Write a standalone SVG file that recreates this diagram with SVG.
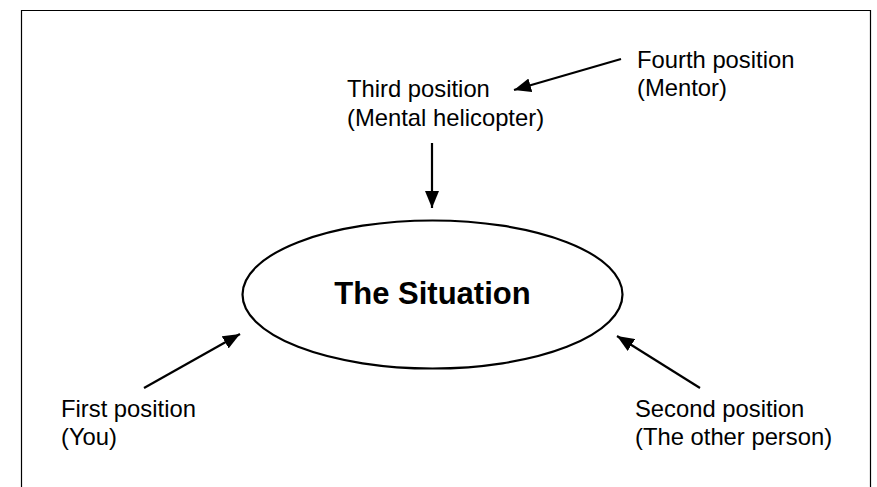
<svg xmlns="http://www.w3.org/2000/svg" width="877" height="487" viewBox="0 0 877 487">
<style>
.lbl{font-family:"Liberation Sans",Arial,sans-serif;font-size:23.8px;fill:#000}
.title{font-family:"Liberation Sans",Arial,sans-serif;font-size:31px;font-weight:bold;fill:#000}
.conn{stroke:#000;stroke-width:2.2;fill:none}
</style>
<defs>
<marker id="ah" markerWidth="18" markerHeight="14" refX="17" refY="7" orient="auto" markerUnits="userSpaceOnUse">
<path d="M0,0 L17,7 L0,14 Z" fill="#000"/>
</marker>
</defs>
<rect width="877" height="487" fill="#fff"/>
<path d="M21.5,487 V10.5 H870.5 V487" fill="none" stroke="#000" stroke-width="1.2"/>
<g id="situation">
<ellipse cx="432.5" cy="294.5" rx="190" ry="74" fill="none" stroke="#000" stroke-width="2.2"/>
<text class="title" x="432.5" y="304" text-anchor="middle">The Situation</text>
</g>
<g id="third">
<text class="lbl" x="347" y="97">Third position</text>
<text class="lbl" x="347" y="126">(Mental helicopter)</text>
</g>
<g id="fourth">
<text class="lbl" x="637" y="68">Fourth position</text>
<text class="lbl" x="637" y="96">(Mentor)</text>
</g>
<g id="first">
<text class="lbl" x="61" y="417">First position</text>
<text class="lbl" x="61" y="445">(You)</text>
</g>
<g id="second">
<text class="lbl" x="635" y="417">Second position</text>
<text class="lbl" x="635" y="445">(The other person)</text>
</g>
<g id="connectors">
<line class="conn" x1="621" y1="59" x2="514" y2="90" marker-end="url(#ah)"/>
<line class="conn" x1="432" y1="143" x2="432" y2="208" marker-end="url(#ah)"/>
<line class="conn" x1="144" y1="388" x2="240" y2="334" marker-end="url(#ah)"/>
<line class="conn" x1="700" y1="388" x2="617" y2="336" marker-end="url(#ah)"/>
</g>
</svg>
